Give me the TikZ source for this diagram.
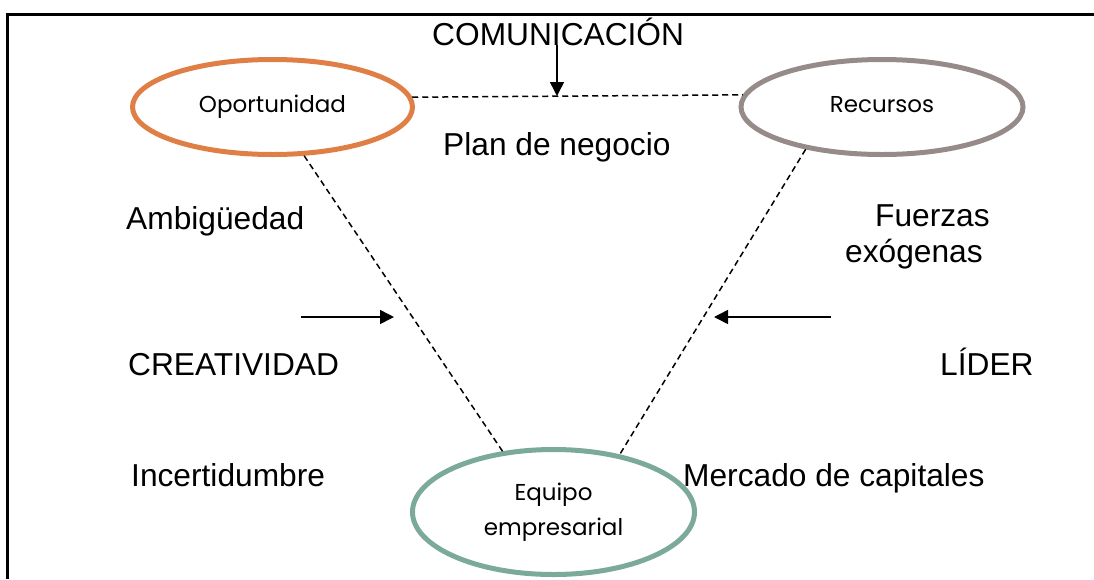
\documentclass[tikz,border=0pt]{standalone}
\usepackage{fontspec}
\setmainfont{Liberation Sans}
\newfontfamily\ellfont{Poppins}
\usetikzlibrary{shapes.geometric,arrows.meta}
\definecolor{orangeC}{HTML}{E07F45}
\definecolor{greyC}{HTML}{968B89}
\definecolor{tealC}{HTML}{7BAA9A}
\begin{document}
\begin{tikzpicture}[x=1pt,y=-1pt,
  oval/.style={ellipse,draw,line width=5pt,inner sep=0pt,align=center,
    font=\ellfont\fontsize{23}{37}\selectfont},
  lbl/.style={anchor=base west,inner sep=0pt,font=\fontsize{31.7}{38}\selectfont},
  dline/.style={line width=1.5pt,dash pattern=on 6pt off 4pt},
  arr/.style={line width=1.5pt,-{Triangle[width=14pt,length=14pt]}}]
\useasboundingbox (0,0) rectangle (1094,579);
\draw[line width=3pt] (7.5,579) -- (7.5,14) -- (1094,14);
% ellipses
\node[oval,draw=orangeC,minimum width=280pt,minimum height=95pt] (op) at (272.5,107) {\raisebox{6pt}{Oportunidad}};
\node[oval,draw=greyC,minimum width=282pt,minimum height=95pt] (re) at (882,107) {\raisebox{6pt}{Recursos}};
\node[oval,draw=tealC,minimum width=282pt,minimum height=125pt] (eq) at (553.5,512) {Equipo\\[-2pt]empresarial};
% dashed connectors
\draw[dline] (op.4.6) -- (re.175.4);
\draw[dline] (op.-57.4) -- (eq.130.5);
\draw[dline] (re.209.7) -- (eq.41.2);
% labels
\node[lbl] (com) at (432,45) {COMUNICACIÓN};
\node[lbl] (plan) at (443,155) {Plan de negocio};
\node[lbl] (amb) at (126,229) {Ambigüedad};
\node[lbl] (cre) at (128,375) {CREATIVIDAD};
\node[lbl] (inc) at (131,486) {Incertidumbre};
\node[lbl] (fue) at (875,226) {Fuerzas};
\node[lbl] (exo) at (845,262) {exógenas};
\node[lbl] (lid) at (940,375) {LÍDER};
\node[lbl] (mer) at (683,486) {Mercado de capitales};
% arrows
\coordinate (ca) at (557,45);
\coordinate (cb) at (557,96);
\draw[arr] (ca) -- (cb);
\coordinate (la) at (301,317);
\coordinate (lb) at (394,317);
\draw[arr] (la) -- (lb);
\coordinate (ra) at (831,317);
\coordinate (rb) at (714,317);
\draw[arr] (ra) -- (rb);
\end{tikzpicture}
\end{document}
